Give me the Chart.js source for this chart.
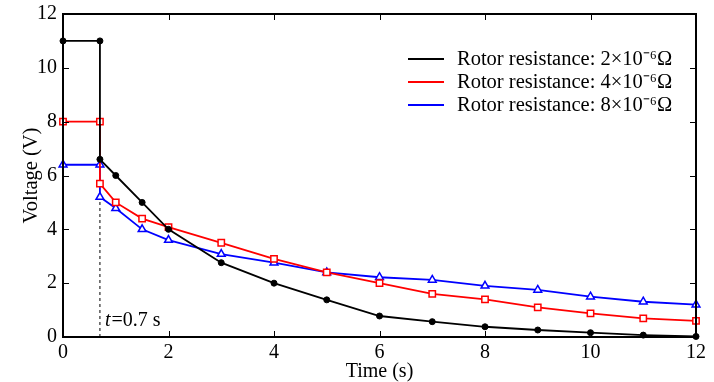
<!DOCTYPE html>
<html>
<head>
<meta charset="utf-8">
<script src="https://cdn.jsdelivr.net/npm/chart.js@4.4.0/dist/chart.umd.min.js"></script>
<style>
  html, body { margin: 0; padding: 0; background: #fff; }
  #wrap { width: 714px; height: 382px; }
</style>
</head>
<body>
<div id="wrap"><canvas id="myChart"></canvas></div>
<script>
// data
var timeS = [0, 0.7, 0.7, 1, 1.5, 2, 3, 4, 5, 6, 7, 8, 9, 10, 11, 12];
var volt2 = [11, 11, 6.6, 6.0, 5.0, 4.0, 2.76, 2.0, 1.38, 0.78, 0.57, 0.38, 0.26, 0.16, 0.07, 0.02];
var volt4 = [8, 8, 5.7, 5.0, 4.4, 4.08, 3.5, 2.9, 2.4, 2.0, 1.6, 1.4, 1.1, 0.88, 0.69, 0.6];
var volt8 = [6.4, 6.4, 5.2, 4.78, 4.0, 3.6, 3.08, 2.76, 2.4, 2.22, 2.12, 1.9, 1.75, 1.5, 1.31, 1.2];
var cutTime = [0.7, 0.7];
var cutVolt = [0, 5.2];
var seriesNames = ["Rotor resistance: 2\u00d710\u207b\u2076\u03a9", "Rotor resistance: 4\u00d710\u207b\u2076\u03a9", "Rotor resistance: 8\u00d710\u207b\u2076\u03a9"];
var xTicks = [0, 2, 4, 6, 8, 10, 12];
var yTicks = [0, 2, 4, 6, 8, 10, 12];

function pts(xs, ys) {
	return xs.map(function (x, i) { return {x: x, y: ys[i]}; });
}

var serif = "'Liberation Serif', 'Times New Roman', serif";

// frame, inward ticks, legend and the t=0.7 s note
var extras = {
	id: 'extras',
	afterDraw: function (chart) {
		var c = chart.ctx, a = chart.chartArea;
		var xs = chart.scales.x, ys = chart.scales.y;
		c.save();
		c.strokeStyle = '#000';
		c.lineWidth = 2;
		c.strokeRect(a.left, a.top, a.right - a.left, a.bottom - a.top);
		c.lineWidth = 1;
		c.beginPath();
		xTicks.forEach(function (v) {
			var px = Math.round(xs.getPixelForValue(v)) + 0.5;
			c.moveTo(px, a.bottom); c.lineTo(px, a.bottom - 6);
			c.moveTo(px, a.top); c.lineTo(px, a.top + 6);
		});
		yTicks.forEach(function (v) {
			var py = Math.round(ys.getPixelForValue(v)) + 0.5;
			c.moveTo(a.left, py); c.lineTo(a.left + 6, py);
			c.moveTo(a.right, py); c.lineTo(a.right - 6, py);
		});
		c.stroke();

		// legend
		var colors = ['#000000', '#ff0000', '#0000ff'];
		c.font = '20.5px ' + serif;
		c.textBaseline = 'middle';
		c.fillStyle = '#000';
		for (var i = 0; i < 3; i++) {
			var y = 59 + i * 23;
			c.strokeStyle = colors[i];
			c.lineWidth = 2;
			c.beginPath();
			c.moveTo(408, y); c.lineTo(444, y);
			c.stroke();
			c.fillText(seriesNames[i], 457, y + 1);
		}

		// note
		var nx = 105, ny = 326;
		c.textBaseline = 'alphabetic';
		c.font = 'italic 20px ' + serif;
		c.fillText('t', nx, ny);
		var w = c.measureText('t').width;
		c.font = '20px ' + serif;
		c.fillText('=0.7 s', nx + w + 1, ny);
		c.restore();
	}
};

var ctx = document.getElementById('myChart').getContext('2d');
var chart = new Chart(ctx, {
	type: 'line',
	data: {
		datasets: [{
			label: seriesNames[0],
			data: pts(timeS, volt2),
			borderColor: '#000000',
			backgroundColor: '#000000',
			borderWidth: 1.8,
			pointStyle: 'circle',
			pointRadius: 3,
			pointBorderWidth: 1,
			clip: false
		}, {
			label: seriesNames[1],
			data: pts(timeS, volt4),
			borderColor: '#ff0000',
			backgroundColor: '#ffffff',
			borderWidth: 1.8,
			pointStyle: 'rect',
			pointRadius: 4.5,
			pointBorderWidth: 1.5,
			clip: false
		}, {
			label: seriesNames[2],
			data: pts(timeS, volt8),
			borderColor: '#0000ff',
			backgroundColor: '#ffffff',
			borderWidth: 1.8,
			pointStyle: 'triangle',
			pointRadius: 4.5,
			pointBorderWidth: 1.5,
			clip: false
		}, {
			label: 'cut',
			data: pts(cutTime, cutVolt),
			borderColor: '#000000',
			borderWidth: 1,
			borderDash: [3, 3],
			pointRadius: 0,
			order: 5
		}]
	},
	options: {
		responsive: true,
		maintainAspectRatio: false,
		animation: false,
		layout: { padding: { top: 14, right: 18, left: 0, bottom: 0 } },
		plugins: {
			legend: { display: false },
			tooltip: { enabled: false }
		},
		scales: {
			x: {
				type: 'linear',
				min: 0, max: 12,
				afterFit: function (s) { s.height = 45; s.paddingLeft = 0; s.paddingRight = 0; },
				afterBuildTicks: function (s) { s.ticks = xTicks.map(function (v) { return {value: v}; }); },
				grid: { display: false, drawTicks: false },
				border: { display: false },
				ticks: { color: '#000', font: { family: serif, size: 20 }, padding: 4, maxRotation: 0 },
				title: { display: true, text: 'Time (s)', color: '#000', font: { family: serif, size: 20, lineHeight: 1 }, padding: { top: 0, bottom: 0 } }
			},
			y: {
				min: 0, max: 12,
				afterFit: function (s) { s.width = 63; s.paddingTop = 0; s.paddingBottom = 0; },
				afterBuildTicks: function (s) { s.ticks = yTicks.map(function (v) { return {value: v}; }); },
				grid: { display: false, drawTicks: false },
				border: { display: false },
				ticks: { color: '#000', font: { family: serif, size: 20 }, padding: 6 },
				title: { display: true, text: 'Voltage (V)', color: '#000', font: { family: serif, size: 20.5, lineHeight: 1 }, padding: { top: 21, bottom: 0 } }
			}
		}
	},
	plugins: [extras]
});
</script>
</body>
</html>
